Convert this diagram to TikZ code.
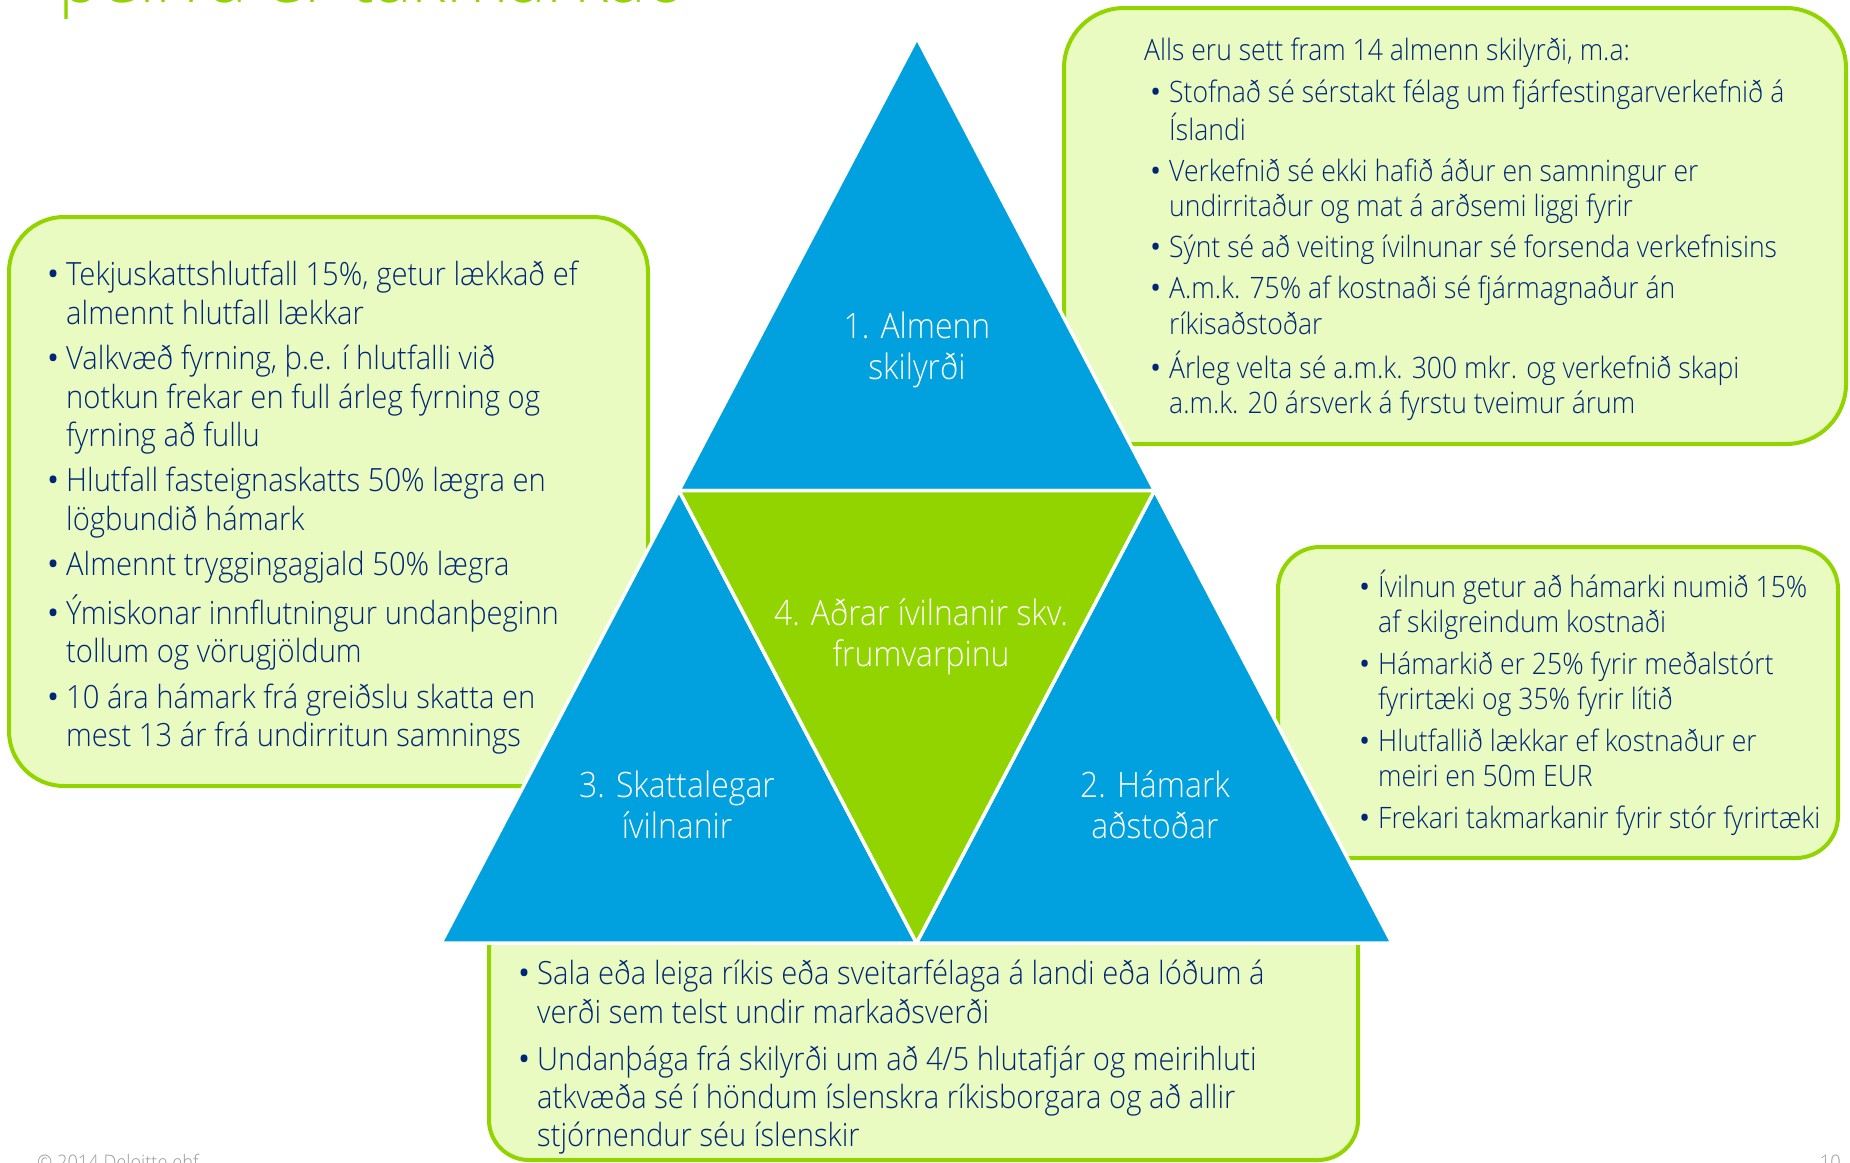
\documentclass[tikz,border=0pt]{standalone}
\usepackage{fontspec}
\setmainfont{Open Sans Light}[FakeStretch=0.912]
\newfontfamily\narrowfont{Open Sans Light}[FakeStretch=0.90]
\newfontfamily\titlefont{Open Sans Light}
\newfontfamily\bulfont{Open Sans}
\usetikzlibrary{positioning}

\definecolor{dblue}{HTML}{00A1DE}
\definecolor{dgreen}{HTML}{92D400}
\definecolor{paleg}{HTML}{EAFBC2}
\definecolor{navy}{HTML}{002776}
\definecolor{footgrey}{HTML}{9A9A9A}

\newcommand{\bul}[1][0pt]{\hspace*{#1}\makebox[19pt][l]{\bulfont\textbullet}}

\begin{document}
\begin{tikzpicture}[x=1pt,y=-1pt,
    infobox/.style={draw=dgreen,fill=paleg,line width=4pt,outer sep=0pt,rounded corners=#1},
    piece/.style={fill=#1,draw=white,line width=3.5pt,line join=round},
    bigtxt/.style={text=navy,inner sep=0pt,font=\fontsize{32}{38.2}\selectfont},
    smalltxt/.style={text=navy,inner sep=0pt,font=\narrowfont\fontsize{29.5}{35.2}\selectfont},
    trilabel/.style={text=white,align=center,inner sep=0pt,font=\fontsize{35}{41}\selectfont},
    foot/.style={text=footgrey,inner sep=0pt,font=\fontsize{20}{24}\selectfont}]

  \useasboundingbox (0,0) rectangle (1850,1162);

  \node[text=dgreen,inner sep=0pt,anchor=base west,font=\titlefont\fontsize{71}{85}\selectfont] (title) at (58,2) {þeirra er takmarkað};

  \node[infobox=55pt,minimum width=639pt,minimum height=569pt] (lbox) at (328.5,501.5) {};
  \node[infobox=60pt,minimum width=782pt,minimum height=436pt] (tbox) at (1455,226) {};
  \node[infobox=42pt,minimum width=560pt,minimum height=311pt] (rbox) at (1558,702.5) {};
  \node[infobox=40pt,minimum width=869pt,minimum height=280pt] (lowbox) at (923.5,1020) {};

  \coordinate (apex) at (917,38);
  \coordinate (bl) at (441,943);
  \coordinate (br) at (1392,943);
  \coordinate (ml) at (679,490.5);
  \coordinate (mr) at (1154.5,490.5);
  \coordinate (mb) at (916.5,943);

  \draw[piece=dblue] (apex) -- (ml) -- (mr) -- cycle;
  \draw[piece=dblue] (ml) -- (bl) -- (mb) -- cycle;
  \draw[piece=dblue] (mr) -- (mb) -- (br) -- cycle;
  \draw[piece=dgreen] (ml) -- (mr) -- (mb) -- cycle;

  \node[trilabel] (t1) at (917,350) {1. Almenn\\skilyrði};
  \node[trilabel] (t4) at (921,637) {4. Aðrar ívilnanir skv.\\frumvarpinu};
  \node[trilabel] (t3) at (677,805) {3. Skattalegar\\ívilnanir};
  \node[trilabel] (t2) at (1155,805) {2. Hámark\\aðstoðar};

  \node[bigtxt,below right=42pt and 38pt of lbox.north west] (ltxt) {%
    \begin{tabular}{@{}l@{}l@{}}
      \bul & Tekjuskattshlutfall 15\%, getur lækkað ef\\
           & almennt hlutfall lækkar\\[7.5pt]
      \bul & Valkvæð fyrning, þ.e. í hlutfalli við\\
           & notkun frekar en full árleg fyrning og\\
           & fyrning að fullu\\[7.5pt]
      \bul & Hlutfall fasteignaskatts 50\% lægra en\\
           & lögbundið hámark\\[7.5pt]
      \bul & Almennt tryggingagjald 50\% lægra\\[7.5pt]
      \bul & Ýmiskonar innflutningur undanþeginn\\
           & tollum og vörugjöldum\\[7.5pt]
      \bul & 10 ára hámark frá greiðslu skatta en\\
           & mest 13 ár frá undirritun samnings
    \end{tabular}};

  \node[smalltxt,below right=28pt and 80pt of tbox.north west] (ttxt) {%
    \begin{tabular}{@{}l@{}l@{}}
      \multicolumn{2}{@{}l@{}}{Alls eru sett fram 14 almenn skilyrði, m.a:}\\[6pt]
      \bul[6pt] & Stofnað sé sérstakt félag um fjárfestingarverkefnið á\\
                & Íslandi\\[6pt]
      \bul[6pt] & Verkefnið sé ekki hafið áður en samningur er\\
                & undirritaður og mat á arðsemi liggi fyrir\\[6pt]
      \bul[6pt] & Sýnt sé að veiting ívilnunar sé forsenda verkefnisins\\[6pt]
      \bul[6pt] & A.m.k. 75\% af kostnaði sé fjármagnaður án\\
                & ríkisaðstoðar\\[6pt]
      \bul[6pt] & Árleg velta sé a.m.k. 300 mkr. og verkefnið skapi\\
                & a.m.k. 20 ársverk á fyrstu tveimur árum
    \end{tabular}};

  \node[smalltxt,font=\narrowfont\fontsize{29.5}{35}\selectfont,below right=22.5pt and 81pt of rbox.north west] (rtxt) {%
    \begin{tabular}{@{}l@{}l@{}}
      \bul & Ívilnun getur að hámarki numið 15\%\\
           & af skilgreindum kostnaði\\[7pt]
      \bul & Hámarkið er 25\% fyrir meðalstórt\\
           & fyrirtæki og 35\% fyrir lítið\\[7pt]
      \bul & Hlutfallið lækkar ef kostnaður er\\
           & meiri en 50m EUR\\[7pt]
      \bul & Frekari takmarkanir fyrir stór fyrirtæki
    \end{tabular}};

  \node[bigtxt,below right=78pt and 29pt of lowbox.north west] (lowtxt) {%
    \begin{tabular}{@{}l@{}l@{}}
      \bul & Sala eða leiga ríkis eða sveitarfélaga á landi eða lóðum á\\
           & verði sem telst undir markaðsverði\\[9pt]
      \bul & Undanþága frá skilyrði um að 4/5 hlutafjár og meirihluti\\
           & atkvæða sé í höndum íslenskra ríkisborgara og að allir\\
           & stjórnendur séu íslenskir
    \end{tabular}};

  \node[foot,anchor=base west] (copy) at (37,1169) {© 2014 Deloitte ehf.};
  \node[foot,anchor=base east] (pagenr) at (1841,1169) {10};
\end{tikzpicture}
\end{document}
